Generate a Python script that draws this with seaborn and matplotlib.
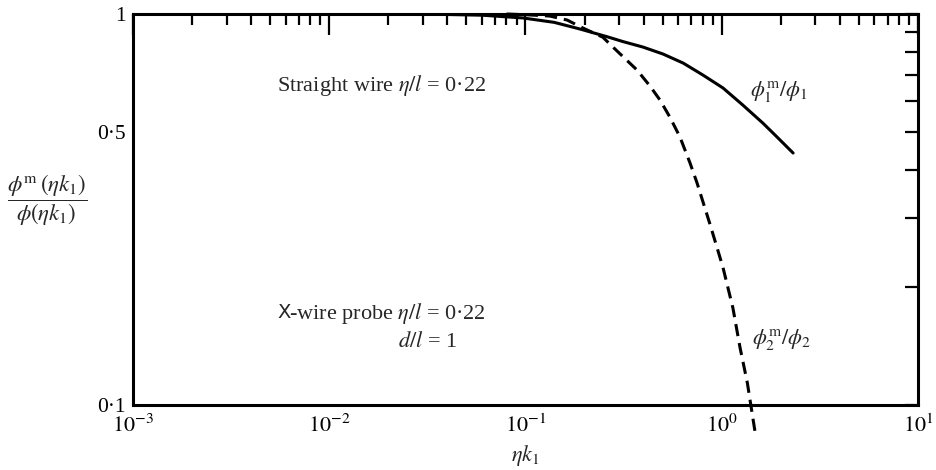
import numpy as np
import pandas as pd
import matplotlib
matplotlib.use("Agg")
import matplotlib.pyplot as plt
import matplotlib.ticker as mticker
import seaborn as sns

# ---- data ----
straight_x = [0.03, 0.06, 0.097, 0.14, 0.19, 0.26, 0.314, 0.397, 0.502, 0.636, 0.802,
              1.014, 1.28, 1.62, 1.91, 2.31]
straight_y = [1.0, 0.993, 0.977, 0.952, 0.915, 0.875, 0.85, 0.823, 0.79, 0.749, 0.698,
              0.647, 0.585, 0.526, 0.485, 0.441]

xwire_x = [0.08, 0.10, 0.133, 0.163, 0.196, 0.248, 0.279, 0.37, 0.43, 0.484, 0.544, 0.612,
           0.689, 0.748, 0.871, 1.014, 1.14, 1.24, 1.35, 1.48]
xwire_y = [1.0, 0.996, 0.988, 0.965, 0.921, 0.872, 0.823, 0.719, 0.655, 0.603, 0.545, 0.485,
           0.416, 0.37, 0.29, 0.225, 0.177, 0.14, 0.114, 0.085]

y_major = [0.1, 0.5, 1.0]
y_major_labels = ["0·1", "0·5", "1"]
y_minor = [0.2, 0.3, 0.4, 0.6, 0.7, 0.8, 0.9]
x_decades = [1e-3, 1e-2, 1e-1, 1e0, 1e1]
x_labels = [r"$10^{-3}$", r"$10^{-2}$", r"$10^{-1}$", r"$10^{0}$", r"$10^{1}$"]

sns.set_theme(style="white")
plt.rcParams["font.family"] = ["Liberation Serif", "DejaVu Serif"]
plt.rcParams["mathtext.fontset"] = "stix"

W, H = 937, 470
fig = plt.figure(figsize=(W/100, H/100), dpi=100)
ax = fig.add_axes([133/W, 1-405/H, (918-133)/W, (405-14)/H])

df1 = pd.DataFrame({"x": straight_x, "y": straight_y})
df2 = pd.DataFrame({"x": xwire_x, "y": xwire_y})
sns.lineplot(data=df1, x="x", y="y", ax=ax, color="black", linewidth=2.2)
sns.lineplot(data=df2, x="x", y="y", ax=ax, color="black", linewidth=2.2)
lines = ax.get_lines()
lines[1].set_dashes([4, 2.3])
lines[1].set_clip_on(False)

ax.set_xscale("log")
ax.set_yscale("log")
ax.set_xlim(1e-3, 1e1)
ax.set_ylim(0.1, 1.0)

ax.xaxis.set_major_locator(mticker.FixedLocator(x_decades))
ax.xaxis.set_major_formatter(mticker.FixedFormatter(x_labels))
ax.xaxis.set_minor_locator(mticker.LogLocator(base=10, subs=np.arange(2, 10)))
ax.xaxis.set_minor_formatter(mticker.NullFormatter())
ax.yaxis.set_major_locator(mticker.FixedLocator(y_major))
ax.yaxis.set_major_formatter(mticker.FixedFormatter(y_major_labels))
ax.yaxis.set_minor_locator(mticker.FixedLocator(y_minor))
ax.yaxis.set_minor_formatter(mticker.NullFormatter())

for s in ax.spines.values():
    s.set_linewidth(2.2)
    s.set_color("black")

ax.tick_params(axis="both", which="both", direction="in", top=True, right=True,
               color="black", width=1.6, labelcolor="black")
ax.tick_params(axis="x", which="major", length=15, pad=7, labelsize=16)
ax.tick_params(axis="x", which="minor", length=8)
ax.tick_params(axis="y", which="both", length=9.5, pad=5, labelsize=15.5)
ax.set_xlabel("")
ax.set_ylabel("")

fs = 16
def ftxt(px, py, s, **kw):
    fig.text(px/W, 1-py/H, s, **kw)

ftxt(277, 86, r"Straight wire $\eta/l$ = 0·22", fontsize=fs, ha="left", va="center")
ftxt(277, 313, "X", fontsize=14, ha="left", va="center", family=["DejaVu Sans"])
ftxt(289, 313, r"-wire probe $\eta/l$ = 0·22", fontsize=fs, ha="left", va="center")
ftxt(398, 342, r"$d/l$ = 1", fontsize=fs, ha="left", va="center")
ftxt(750, 92, r"$\phi_1^{\rm m}/\phi_1$", fontsize=fs, ha="left", va="center")
ftxt(752, 340, r"$\phi_2^{\rm m}/\phi_2$", fontsize=fs, ha="left", va="center")

ftxt(47, 200, r"$\dfrac{\phi^{\rm m}\,(\eta k_1)}{\phi(\eta k_1)}$", fontsize=16.5,
     ha="center", va="center")
ftxt(525, 456, r"$\eta k_1$", fontsize=16, ha="center", va="center")

fig.savefig("out.png", dpi=100, facecolor="white")
